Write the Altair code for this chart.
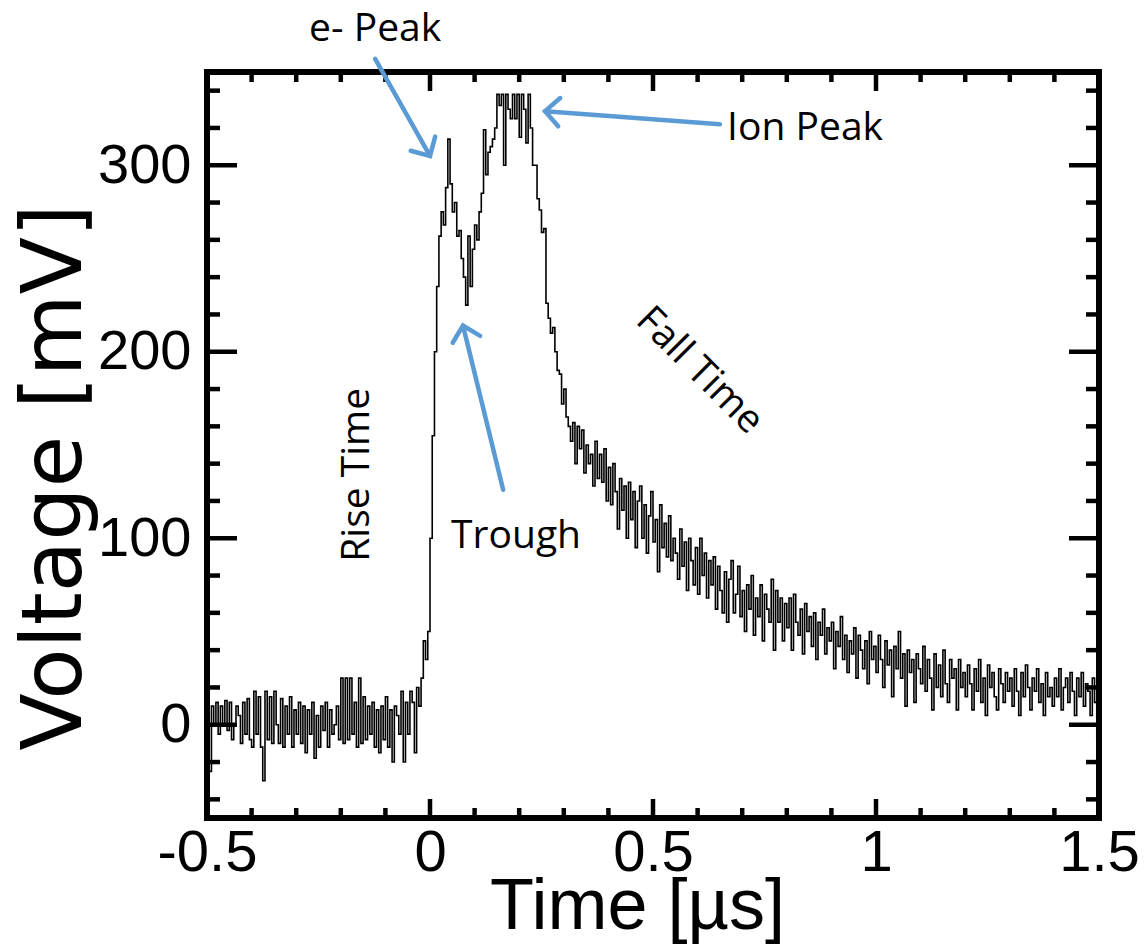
import altair as alt
import pandas as pd
import numpy as np

# ---------------- data ----------------
t_start = -0.5          # µs, first bin edge
bin_width = 0.005       # µs per sample

baseline_mv = [
    5, -25, 10, 0, 12, -5, 10, 0, 13, -3, 12, -8, 0, 10, 5, -10, 12, -5, 14, -8,
    -12, 18, -5, 15, -12, -30, 18, -8, 15, -10, 18, 0, -10, 14, -12, 10, -5, 15, -12, 8,
    -5, 12, -10, 10, -15, 8, -5, 12, -18, 5, -12, 10, -3, 12, -12, 8, -5, 0, 10, -8,
    25, -10, 25, -8, 25, -5, 12, -12, 25, -10, 15, -8, 10, -5, 12, -12, 8, -15, 10, -8,
    15, -12, 8, -20, 10, 5, -5, 18, -20, 12, -5, 18, 12, -15, 20, 10, 25, 45, 35, 50,
]
pulse_mv = [
    100, 155, 200, 235, 262, 275, 268, 288, 314, 290, 275, 280, 262, 265, 250, 240, 225, 262, 235, 255,
    268, 260, 275, 285, 319, 295, 307, 310, 314, 320, 338, 332, 338, 300, 338, 330, 325, 338, 325, 338,
    315, 338, 330, 312, 338, 320, 300, 300, 282, 276, 264, 266, 226, 218, 210, 213, 200, 190, 188, 172,
]
tail_mv = [
    180, 165, 160, 152, 162, 140, 160, 148, 158, 135, 150, 140, 145, 128, 152, 132, 145, 130, 148, 120,
    138, 118, 140, 125, 105, 132, 115, 128, 100, 130, 110, 125, 95, 120, 128, 100, 118, 92, 112, 125,
    98, 110, 82, 118, 95, 108, 90, 112, 88, 100, 92, 78, 105, 85, 98, 72, 100, 88, 75, 95,
    70, 100, 80, 92, 68, 88, 75, 90, 62, 85, 72, 60, 82, 55, 78, 88, 60, 70, 85, 58,
    72, 50, 75, 62, 80, 48, 68, 58, 75, 45, 70, 62, 55, 78, 40, 72, 55, 68, 45, 65,
    52, 68, 40, 70, 55, 48, 62, 38, 65, 50, 58, 42, 60, 35, 55, 48, 62, 38, 52, 45,
    55, 30, 50, 42, 58, 35, 48, 28, 45, 38, 52, 25, 48, 40, 30, 45, 22, 50, 35, 42,
    28, 48, 35, 20, 45, 32, 40, 15, 42, 30, 50, 25, 38, 10, 40, 28, 35, 12, 38, 30,
    22, 42, 18, 35, 25, 8, 38, 20, 32, 15, 40, 22, 12, 35, 25, 30, 8, 35, 20, 28,
    15, 32, 22, 8, 30, 18, 35, 12, 25, 5, 32, 20, 28, 15, 8, 30, 22, 12, 28, 18,
    25, 10, 30, 18, 5, 28, 15, 32, 20, 8, 25, 18, 30, 12, 22, 5, 28, 15, 20, 10,
    25, 15, 30, 8, 20, 25, 12, 28, 18, 5, 25, 15, 28, 10, 22, 18, 5, 25, 12, -8,
]

x_domain = [-0.5, 1.5]
y_domain = [-50, 350]
x_tick_labels = [-0.5, 0, 0.5, 1, 1.5]
y_tick_labels = [0, 100, 200, 300]
x_minor = [-0.4, -0.3, -0.2, -0.1, 0.1, 0.2, 0.3, 0.4, 0.6, 0.7, 0.8, 0.9, 1.1, 1.2, 1.3, 1.4]
y_minor = [-40, -20, 20, 40, 60, 80, 120, 140, 160, 180, 220, 240, 260, 280, 320, 340]

# annotations (data coordinates)
label_text = ["e- Peak", "Ion Peak", "Trough", "Rise Time", "Fall Time"]
label_t = [-0.123, 0.841, 0.193, -0.164, 0.605]
label_v = [373, 320, 101, 134, 190]
label_angle = [0, 0, 0, 270, 45]

arrow_t0 = [-0.123, 0.650, 0.164]
arrow_v0 = [357, 322, 126]
arrow_t1 = [0.000, 0.258, 0.074]
arrow_v1 = [305, 329, 214]
arrow_angle = [150, 274, 346]

# ---------------- build ----------------
values = baseline_mv + pulse_mv + tail_mv
n = len(values)
t = [round(t_start + bin_width * i, 4) for i in range(n)] + [x_domain[1]]
v = values + [values[-1]]
df = pd.DataFrame({"t": t, "v": v})

W, H = 892, 746
xs = alt.Scale(domain=x_domain, nice=False, zero=False)
ys = alt.Scale(domain=y_domain, nice=False, zero=False)

FONT = "Liberation Sans"
ANNOT_FONT = "Open Sans"
BLUE = "#5b9bd5"

x_axis = alt.Axis(
    values=x_tick_labels, ticks=False, domain=False, grid=False,
    labelFontSize=58, labelFont=FONT, labelColor="black", labelPadding=6,
    labelExpr="datum.value < 0 ? '-' + format(-datum.value, '~g') : format(datum.value, '~g')",
    labelOverlap=False, labelFlush=False, labelBound=False,
    title="Time [µs]", titleFontSize=72, titleFont=FONT, titleFontWeight="normal",
    titleColor="black", titleX=430, titleY=110, titleBaseline="alphabetic", titleAlign="center",
)
y_axis = alt.Axis(
    values=y_tick_labels, ticks=False, domain=False, grid=False,
    labelFontSize=56, labelFont=FONT, labelColor="black", labelPadding=16,
    labelOverlap=False, labelFlush=False, labelBound=False,
    title="Voltage [mV]", titleFontSize=84, titleFont="DejaVu Sans", titleFontWeight="normal",
    titleColor="black", titleAngle=270, titleX=-152, titleY=405,
    titleAlign="center", titleBaseline="middle",
)

line = alt.Chart(df).mark_line(
    interpolate="step-after", color="black", strokeWidth=1.6, clip=True
).encode(
    x=alt.X("t:Q", scale=xs, axis=x_axis),
    y=alt.Y("v:Q", scale=ys, axis=y_axis),
)

xmaj = pd.DataFrame({"t": x_tick_labels})
xmin = pd.DataFrame({"t": x_minor})
ymaj = pd.DataFrame({"v": y_tick_labels})
ymin = pd.DataFrame({"v": y_minor})


def xtick(data, y0, y1):
    return alt.Chart(data).mark_rule(color="black", strokeWidth=4.5).encode(
        x=alt.X("t:Q", scale=xs), y=alt.value(y0), y2=alt.value(y1)
    )


def ytick(data, x0, x1):
    return alt.Chart(data).mark_rule(color="black", strokeWidth=4.5).encode(
        y=alt.Y("v:Q", scale=ys), x=alt.value(x0), x2=alt.value(x1)
    )


ticks = [
    xtick(xmaj, H, H - 19), xtick(xmin, H, H - 10),
    xtick(xmaj, 0, 19), xtick(xmin, 0, 10),
    ytick(ymaj, 0, 30), ytick(ymin, 0, 13),
    ytick(ymaj, W, W - 30), ytick(ymin, W, W - 13),
]

adf = pd.DataFrame({"t0": arrow_t0, "v0": arrow_v0, "t1": arrow_t1, "v1": arrow_v1, "ang": arrow_angle})
shafts = alt.Chart(adf).mark_rule(color=BLUE, strokeWidth=4.5, strokeCap="round", clip=False).encode(
    x=alt.X("t0:Q", scale=xs), y=alt.Y("v0:Q", scale=ys),
    x2="t1:Q", y2="v1:Q",
)
heads = alt.Chart(adf).mark_point(
    shape="M -1 1 L 0 0 L 1 1", filled=False, color=BLUE, strokeWidth=4.5,
    size=800, opacity=1, clip=False, strokeCap="round", strokeJoin="miter",
).encode(
    x=alt.X("t1:Q", scale=xs), y=alt.Y("v1:Q", scale=ys),
    angle=alt.Angle("ang:Q", scale=None),
)

ldf = pd.DataFrame({"text": label_text, "t": label_t, "v": label_v, "ang": label_angle})
labels = alt.Chart(ldf).mark_text(
    font=ANNOT_FONT, fontSize=39, color="black", align="center", baseline="middle", clip=False
).encode(
    x=alt.X("t:Q", scale=xs), y=alt.Y("v:Q", scale=ys),
    text="text:N", angle=alt.Angle("ang:Q", scale=None),
)

chart = alt.layer(line, *ticks, shafts, heads, labels).properties(
    width=W, height=H,
    padding={"left": 207, "top": 72, "right": 45, "bottom": 129},
    autosize=alt.AutoSizeParams(type="none"),
    background="white",
).configure_view(stroke="black", strokeWidth=6)

chart.save("out.html", embed_options={"renderer": "svg", "actions": False})
